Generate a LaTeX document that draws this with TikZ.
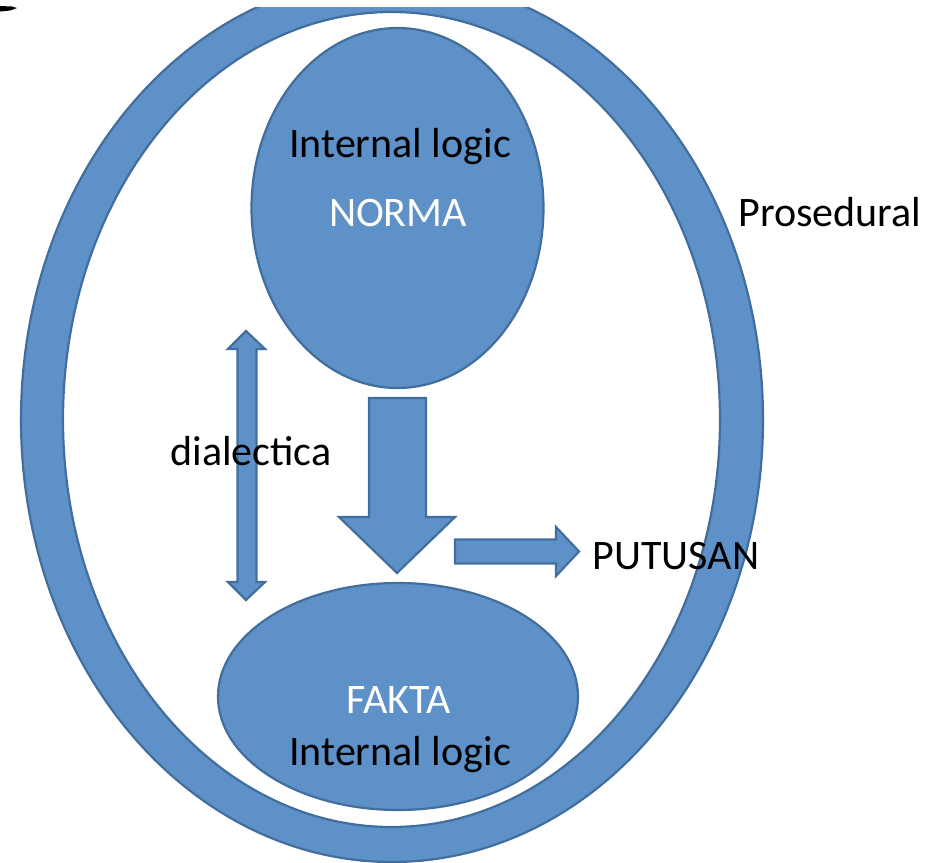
\documentclass[tikz,border=0pt]{standalone}
\usepackage{fontspec}
\setmainfont{Carlito}
\usepackage{xcolor}
\usetikzlibrary{shapes.geometric}
\definecolor{boxblue}{RGB}{94,145,199}
\definecolor{edgeblue}{RGB}{66,110,158}

\begin{document}
\begin{tikzpicture}[x=0.5pt, y=-0.5pt,
    blob/.style={ellipse, draw=edgeblue, fill=boxblue, line width=1.1pt, inner sep=0pt},
    blockarrow/.style={draw=edgeblue, fill=boxblue, line width=1.1pt, line join=miter},
    lbl/.style={font=\fontsize{21}{25}\selectfont, inner sep=0pt},
    wlbl/.style={lbl, text=white}]
  \useasboundingbox (0,0) rectangle (928,863);
  % cut-off mark in the corner
  \fill[black] (0,6) -- (12,6.5) -- (17,8) -- (10,10.5) -- (0,11.5) -- cycle;

  % outer ring (procedure)
  \begin{scope}
    \clip (0,7) rectangle (928,863);
    \filldraw[blockarrow, even odd rule]
      (392,419.5) ellipse [x radius=371, y radius=442.5]
      (391.5,419.5) ellipse [x radius=328.5, y radius=407.5];
  \end{scope}
  \node[lbl] (prosedural) at (830,212) {Prosedural};

  % the two bodies
  \node[blob, minimum width=146pt, minimum height=180pt] (norma) at (397.5,208) {};
  \node[blob, minimum width=180pt, minimum height=113.5pt] (fakta) at (398,696.5) {};
  \node[lbl] (normalogic) at (400,147) {Internal logic};
  \node[wlbl] (normatxt) at (398,213) {NORMA};
  \node[wlbl] (faktatxt) at (399,700) {FAKTA};
  \node[lbl] (faktalogic) at (400,755) {Internal logic};

  % dialectica
  \coordinate (dtop) at (246,331);
  \coordinate (dbot) at (246,600);
  \draw[blockarrow] (dtop) -- (265,349) -- (256.5,349) -- (256.5,582) -- (265,582)
    -- (dbot) -- (228,582) -- (237.5,582) -- (237.5,349) -- (228,349) -- cycle;
  \node[lbl] (dialectica) at (251,451) {dialectica};

  % norma onto fakta
  \coordinate (dtip) at (397,573);
  \draw[blockarrow] (369,398) -- (426,398) -- (426,517) -- (455,517) -- (dtip)
    -- (339,517) -- (369,517) -- cycle;

  % to the verdict
  \coordinate (rtip) at (579,551.5);
  \draw[blockarrow] (455,539.5) -- (556,539.5) -- (556,527) -- (rtip) -- (556,576)
    -- (556,563.5) -- (455,563.5) -- cycle;
  \node[lbl] (putusan) at (676,556) {PUTUSAN};
\end{tikzpicture}
\end{document}
